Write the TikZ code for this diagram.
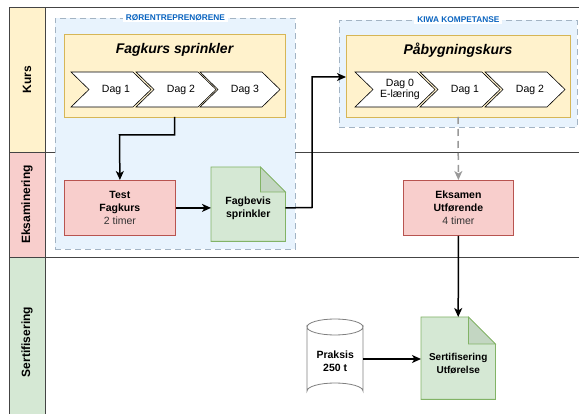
\documentclass[tikz,border=0pt]{standalone}
\usepackage{fontspec}
\setmainfont{Liberation Sans}
\usetikzlibrary{arrows.meta,calc}
\definecolor{yelF}{HTML}{FFF2CC}
\definecolor{yelD}{HTML}{D6B656}
\definecolor{redF}{HTML}{F8CECC}
\definecolor{redD}{HTML}{B85450}
\definecolor{grnF}{HTML}{D5E8D4}
\definecolor{grnD}{HTML}{82B366}
\definecolor{grnFold}{HTML}{C3D6C2}
\definecolor{grpF}{HTML}{E8F3FD}
\definecolor{grpD}{HTML}{A3B4C4}
\definecolor{grpT}{HTML}{0A64C0}
\definecolor{laneD}{HTML}{444444}
\definecolor{txtG}{HTML}{333333}
\newcommand{\chevron}[3]{%
  \draw[draw=black, fill=white, line width=0.6pt]
    (#1,72) -- ++(62,0) -- ++(18,17.5) -- ++(-18,17.5) -- ++(-62,0) -- ++(18,-17.5) -- cycle;
  \node[chevtext] (#2) at (#1+45,89.5) {#3};}
\begin{document}
\begin{tikzpicture}[x=1pt,y=-1pt,
  lanehead/.style={draw=laneD, line width=0.7pt, rotate=90, minimum height=36, inner sep=0, font=\bfseries\fontsize{12}{14}\selectfont},
  grp/.style={draw=grpD, fill=grpF, dash pattern=on 6pt off 4pt, line width=0.8pt, inner sep=0, anchor=north west},
  grplabel/.style={fill=white, text=grpT, inner xsep=3pt, inner ysep=1pt, font=\bfseries\fontsize{8.3}{9}\selectfont},
  ybox/.style={draw=yelD, fill=yelF, line width=0.8pt, inner sep=0, anchor=north west},
  title/.style={font=\bfseries\itshape\fontsize{14}{16}\selectfont},
  chevtext/.style={align=center, font=\fontsize{10.5}{11.5}\selectfont},
  rbox/.style={draw=redD, fill=redF, line width=0.8pt, inner sep=0, anchor=north west, align=center, font=\fontsize{10.5}{13}\selectfont},
  docnode/.style={inner sep=0, anchor=north west, align=center, font=\bfseries\fontsize{10.5}{13}\selectfont},
  conn/.style={line width=1.5pt, -{Stealth[length=9pt,width=8pt,inset=2.5pt]}},
  dconn/.style={line width=1.5pt, draw=gray!80, dash pattern=on 7pt off 5pt, -{Stealth[length=9pt,width=8pt,inset=2.5pt]}}
]
\useasboundingbox (0,0) rectangle (579,414);
% lanes
\draw[draw=laneD, line width=0.7pt] (9,7) -- (590,7);
\draw[draw=laneD, line width=0.7pt] (9,152) -- (590,152);
\draw[draw=laneD, line width=0.7pt] (9,257) -- (590,257);
\node[lanehead, fill=yelF, minimum width=145] (hk) at (27,79.5) {Kurs};
\node[lanehead, fill=redF, minimum width=105] (he) at (27,204.5) {Eksaminering};
\node[lanehead, fill=grnF, minimum width=170] (hs) at (27,342) {Sertifisering};
% groups
\node[grp, minimum width=240, minimum height=231] (g1) at (55,18) {};
\node[grplabel] (g1l) at (g1.north) {RØRENTREPRENØRENE};
\node[grp, minimum width=238, minimum height=107] (g2) at (339,20) {};
\node[grplabel] (g2l) at (g2.north) {KIWA KOMPETANSE};
% course boxes
\node[ybox, minimum width=221, minimum height=83] (fk) at (64,34) {};
\node[title] (fkt) at (174.5,50) {Fagkurs sprinkler};
\chevron{71}{d1}{Dag 1}
\chevron{136}{d2}{Dag 2}
\chevron{200}{d3}{Dag 3}
\node[ybox, minimum width=224, minimum height=82] (pk) at (346,35) {};
\node[title] (pkt) at (458,50) {Påbygningskurs};
\chevron{355}{e0}{Dag 0\\E-læring}
\chevron{420}{e1}{Dag 1}
\chevron{485}{e2}{Dag 2}
% exam boxes
\node[rbox, minimum width=111, minimum height=55] (test) at (64,180) {\textbf{Test}\\\textbf{Fagkurs}\\\textcolor{txtG}{2 timer}};
\node[rbox, minimum width=110, minimum height=55] (eks) at (403,180) {\textbf{Eksamen}\\\textbf{Utførende}\\\textcolor{txtG}{4 timer}};
% documents
\node[docnode, minimum width=74, minimum height=74] (fb) at (211,167) {};
\draw[draw=grnD, fill=grnF, line width=0.8pt] (fb.north west) -- ($(fb.north east)+(-25,0)$) -- ($(fb.north east)+(0,25)$) -- (fb.south east) -- (fb.south west) -- cycle;
\draw[draw=grnD, fill=grnFold, line width=0.8pt] ($(fb.north east)+(-25,0)$) -- ($(fb.north east)+(-25,25)$) -- ($(fb.north east)+(0,25)$) -- cycle;
\node[docnode, anchor=center] (fbt) at ($(fb.center)+(0,4)$) {Fagbevis\\sprinkler};
\node[docnode, minimum width=74, minimum height=82] (sd) at (421,317) {};
\draw[draw=grnD, fill=grnF, line width=0.8pt] (sd.north west) -- ($(sd.north east)+(-27,0)$) -- ($(sd.north east)+(0,27)$) -- (sd.south east) -- (sd.south west) -- cycle;
\draw[draw=grnD, fill=grnFold, line width=0.8pt] ($(sd.north east)+(-27,0)$) -- ($(sd.north east)+(-27,27)$) -- ($(sd.north east)+(0,27)$) -- cycle;
\node[docnode, anchor=center, font=\bfseries\fontsize{10}{13}\selectfont] (sdt) at ($(sd.center)+(0,5)$) {Sertifisering\\Utførelse};
% cylinder
\node[docnode, minimum width=56, minimum height=80] (pr) at (307,319) {};
\draw[draw=gray, fill=white, line width=0.8pt] (307,327) -- (307,391) arc[start angle=180, end angle=360, x radius=28, y radius=8] -- (363,327) arc[start angle=0, end angle=180, x radius=28, y radius=8] -- cycle;
\draw[draw=gray, line width=0.8pt] (307,327) arc[start angle=180, end angle=360, x radius=28, y radius=8];
\node[docnode, anchor=center] (prt) at ($(pr.center)+(0,2)$) {Praksis\\250 t};
% connectors
\coordinate (fkb) at (174.5,117);
\draw[conn] (fkb) -- (174.5,135) -- (119.5,135) -- (test.north);
\draw[conn] (test.east) -- (fb.west |- test.east);
\draw[conn] (fb.east |- test.east) -- (312,207.5) -- (312,77) -- (pk.west |- 0,77);
\coordinate (pkb) at (458,117);
\draw[dconn] (pkb) -- (eks.north);
\draw[conn] (eks.south) -- (sd.north);
\draw[conn] (pr.east |- 0,359) -- (sd.west |- 0,359);
\end{tikzpicture}
\end{document}
